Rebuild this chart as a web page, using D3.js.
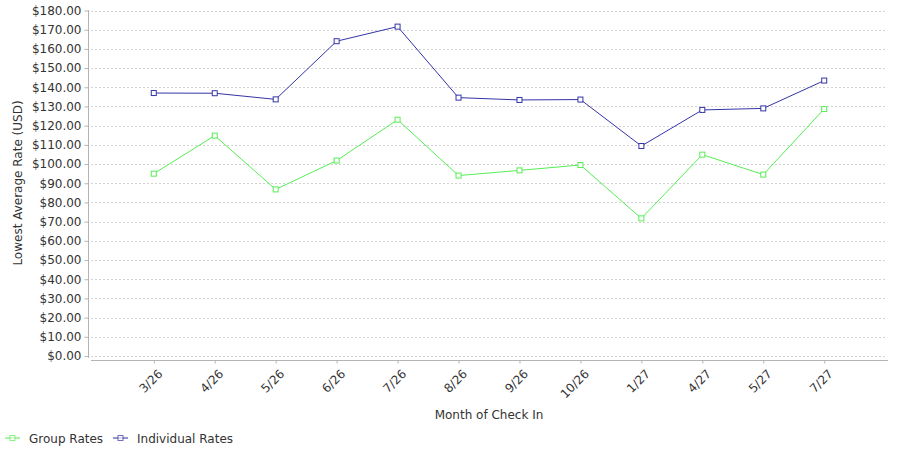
<!DOCTYPE html>
<html>
<head>
<meta charset="utf-8">
<script src="https://cdn.jsdelivr.net/npm/d3@7"></script>
<style>
  body { margin: 0; background: #fff; }
  text { font-family: "DejaVu Sans", sans-serif; font-size: 12px; fill: #333; }
</style>
</head>
<body>
<svg id="chart" width="900" height="450"></svg>
<script>
// data
var months = ["3/26", "4/26", "5/26", "6/26", "7/26", "8/26", "9/26", "10/26", "1/27", "4/27", "5/27", "7/27"];
var groupRates = [95.0, 114.8, 86.8, 101.8, 123.1, 94.0, 96.7, 99.5, 71.7, 104.9, 94.5, 128.7];
var individualRates = [137.0, 136.9, 133.7, 164.0, 171.6, 134.6, 133.4, 133.6, 109.4, 128.2, 129.0, 143.5];
var yTicks = [0, 10, 20, 30, 40, 50, 60, 70, 80, 90, 100, 110, 120, 130, 140, 150, 160, 170, 180];

var series = [
  { name: "Group Rates", values: groupRates, color: "#55ee55" },
  { name: "Individual Rates", values: individualRates, color: "#3434a8" }
];

var svg = d3.select("#chart");
// plot area edges ("top" is taken by window.top, hence the p prefix)
var pLeft = 91, pRight = 887, pTop = 10, pBottom = 356;

var x = d3.scalePoint().domain(months).range([pLeft, pRight]).padding(1.03);
var y = d3.scaleLinear().domain([0, 180]).range([pBottom, pTop + 0.5]);

// grid
svg.append("g").selectAll("line").data(yTicks).enter().append("line")
  .attr("x1", pLeft).attr("x2", pRight)
  .attr("y1", function (d) { return Math.round(y(d)) + 0.5; })
  .attr("y2", function (d) { return Math.round(y(d)) + 0.5; })
  .attr("stroke", "#d2d2d2").attr("stroke-dasharray", "2,2");

// y axis
var yAxis = svg.append("g").attr("transform", "translate(88.5,0)")
  .call(d3.axisLeft(y).tickValues(yTicks).tickSize(4).tickPadding(3)
    .tickFormat(function (d) { return "$" + d3.format(".2f")(d); }));
yAxis.select(".domain").attr("stroke", "#b4b4b4").attr("d", "M0," + pTop + "V" + (pBottom + 2));
yAxis.selectAll(".tick line").attr("stroke", "#b4b4b4");
yAxis.selectAll(".tick text").attr("fill", "#333").style("font-size", "12px").style("font-family", "DejaVu Sans");

// x axis
var xAxis = svg.append("g").attr("transform", "translate(0,360.5)")
  .call(d3.axisBottom(x).tickSize(3).tickSizeOuter(0));
xAxis.select(".domain").attr("stroke", "#b4b4b4").attr("d", "M" + pLeft + ",0H" + (pRight + 1));
xAxis.selectAll(".tick line").attr("stroke", "#b4b4b4");
xAxis.selectAll(".tick text")
  .attr("fill", "#333").style("font-size", "12px").style("font-family", "DejaVu Sans")
  .attr("text-anchor", "end")
  .attr("dy", null).attr("y", 0)
  .attr("transform", "translate(9,14) rotate(-45)");

// titles
svg.append("text").attr("x", (pLeft + pRight) / 2).attr("y", 419)
  .attr("text-anchor", "middle").text("Month of Check In");
svg.append("text").attr("transform", "translate(22," + ((pTop + pBottom) / 2) + ") rotate(-90)")
  .attr("text-anchor", "middle").text("Lowest Average Rate (USD)");

// lines and markers
var line = d3.line()
  .x(function (d, i) { return x(months[i]); })
  .y(function (d) { return y(d); });

series.forEach(function (s) {
  svg.append("path").datum(s.values)
    .attr("d", line).attr("fill", "none")
    .attr("stroke", s.color).attr("stroke-width", 1);
  svg.append("g").selectAll("rect").data(s.values).enter().append("rect")
    .attr("x", function (d, i) { return x(months[i]) - 2.5; })
    .attr("y", function (d) { return y(d) - 2.5; })
    .attr("width", 5).attr("height", 5)
    .attr("fill", "#fff").attr("stroke", s.color).attr("stroke-width", 1);
});

// legend
var legendX = [5, 113];
var legend = svg.append("g").selectAll("g").data(series).enter().append("g")
  .attr("transform", function (d, i) { return "translate(" + legendX[i] + ",438)"; });
legend.append("line").attr("x1", 0).attr("x2", 15).attr("y1", 0).attr("y2", 0)
  .attr("stroke", function (d) { return d.color; }).attr("stroke-width", 1.5).attr("opacity", 0.7);
legend.append("rect").attr("x", 5).attr("y", -2.5).attr("width", 5).attr("height", 5)
  .attr("fill", "#fff").attr("stroke", function (d) { return d.color; }).attr("opacity", 0.7);
legend.append("text").attr("x", 24).attr("y", 4.5).text(function (d) { return d.name; });
</script>
</body>
</html>
